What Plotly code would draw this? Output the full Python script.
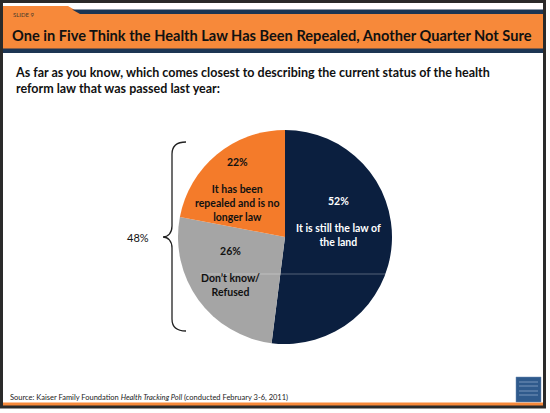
import plotly.graph_objects as go

# survey answers, clockwise from 12 o'clock
answers = ["It is still the law of<br>the land",
           "Don’t know/<br>Refused",
           "It has been<br>repealed and is no<br>longer law"]
shares = [52, 26, 22]
slice_colors = ["#0b1f3f", "#a5a5a5", "#f47b2a"]
label_colors = ["white", "#111111", "#111111"]
label_pos = [(338, 221), (230, 271), (237, 189)]   # label centres, px
bracket_total = "48%"

title = "One in Five Think the Health Law Has Been Repealed, Another Quarter Not Sure"
question = ("As far as you know, which comes closest to describing the current status of the health"
            "<br>reform law that was passed last year:")
source = "Source: Kaiser Family Foundation <i>Health Tracking Poll</i> (conducted February 3-6, 2011)"

W, H = 550, 413
FONT = "Lato"
ORANGE = "#f7893a"
NAVY = "#1c3553"

fig = go.Figure()

# pie centre (285, 237) px, radius 107
cx, cy, r = 285, 237, 107
fig.add_trace(go.Pie(
    labels=[a.replace("<br>", " ") for a in answers],
    values=shares,
    sort=False,
    direction="clockwise",
    rotation=0,
    marker=dict(colors=slice_colors, line=dict(width=0)),
    textinfo="none",
    hoverinfo="label+percent",
    showlegend=False,
    domain=dict(x=[(cx - r) / W, (cx + r) / W],
                y=[1 - (cy + r) / H, 1 - (cy - r) / H]),
))
# empty trace so the pixel axes exist for shapes/annotations
fig.add_trace(go.Scatter(x=[None], y=[None], showlegend=False, hoverinfo="skip"))

# invisible pixel axes for the slide furniture
fig.update_xaxes(range=[0, W], visible=False, fixedrange=True)
fig.update_yaxes(range=[H, 0], visible=False, fixedrange=True)

shapes = [
    # header band
    dict(type="path", path="M3,6 L68,6 L80,13 L543,13 L543,50 L3,50 Z",
         fillcolor=ORANGE, line_width=0),
    dict(type="path", path="M72,9.5 L543,9.5 L543,14 L80,14 Z",
         fillcolor=NAVY, line_width=0),
    dict(type="rect", x0=3, x1=543, y0=48.5, y1=53, fillcolor=NAVY, line_width=0),
    # footer line
    dict(type="rect", x0=3, x1=543, y0=402.5, y1=406, fillcolor=ORANGE, line_width=0),
    # faint gridline across the pie
    dict(type="line", x0=200, x1=388, y0=274, y1=274,
         line=dict(color="rgba(255,255,255,0.3)", width=1)),
    # curly brace
    dict(type="path",
         path="M186,142 C176,142 172,146 172,154 L172,226 C172,233 168,237 163,237 "
              "C168,237 172,241 172,248 L172,319 C172,327 176,331 186,331",
         line=dict(color="#222222", width=1.3)),
    # logo
    dict(type="rect", x0=516, x1=541, y0=377, y1=402, fillcolor="#2f5a8c",
         line=dict(color="#6f8fb5", width=0.5)),
    # outer frame
    dict(type="rect", x0=1.5, x1=544.5, y0=1.5, y1=407,
         line=dict(color="#2a2a2a", width=3)),
]
for yy in [382, 386, 391, 395]:
    shapes.append(dict(type="line", x0=519, x1=538, y0=yy, y1=yy,
                       line=dict(color="#8aa5c8", width=0.8)))

annotations = [
    dict(x=11, y=14, text="SLIDE 9", showarrow=False, xanchor="left", yanchor="middle",
         font=dict(family=FONT, size=6, color="#4a3a2a")),
    dict(x=10, y=35, text="<b>" + title + "</b>", showarrow=False, xanchor="left",
         yanchor="middle", font=dict(family=FONT, size=14.6, color="#111111")),
    dict(x=13, y=80, text="<b>" + question + "</b>", showarrow=False, xanchor="left",
         yanchor="middle", align="left", font=dict(family=FONT, size=12.5, color="#111111")),
    dict(x=138, y=237, text=bracket_total, showarrow=False, xanchor="center", yanchor="middle",
         font=dict(family=FONT, size=11, color="#111111")),
    dict(x=8, y=397, text=source, showarrow=False, xanchor="left", yanchor="middle",
         font=dict(family=FONT, size=7.5, color="#222222")),
]
for ans, val, col, (px_, py_) in zip(answers, shares, label_colors, label_pos):
    annotations.append(dict(
        x=px_, y=py_, text=f"<b>{val}%<br><br>{ans}</b>", showarrow=False,
        xanchor="center", yanchor="middle", align="center",
        font=dict(family=FONT, size=10.5, color=col)))

fig.update_layout(
    width=W, height=H,
    margin=dict(l=0, r=0, t=0, b=0),
    paper_bgcolor="white",
    plot_bgcolor="rgba(0,0,0,0)",
    shapes=shapes,
    annotations=annotations,
)

fig.write_html("out.html", config={"displayModeBar": False},
               post_script="document.body.style.margin='0';")
